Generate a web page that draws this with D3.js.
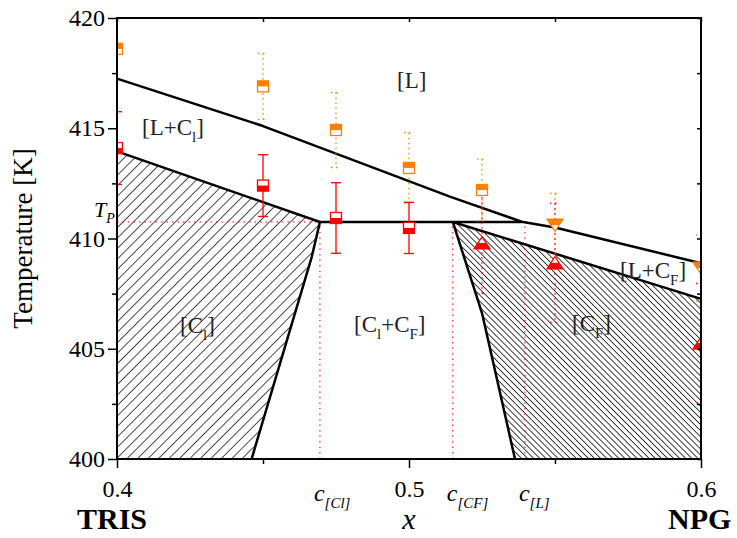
<!DOCTYPE html>
<meta charset="utf-8">
<script src="https://d3js.org/d3.v7.min.js"></script>
<style>
  body { margin: 0; background: #fff; }
  text { font-family: "Liberation Serif", "Times New Roman", serif; fill: #000; }
</style>
<body>
<div id="chart"></div>
<script>
// phase boundaries, [x, T]
var liquidus = [[0.4, 417.25], [0.45, 415.1], [0.48, 413.6], [0.514, 411.9], [0.5386, 410.76], [0.55, 410.5], [0.6, 408.88]];
var solidusCl = [[0.4, 413.95], [0.4695, 410.75]];
var peritectic = [[0.4695, 410.75], [0.5386, 410.75]];
var boundaryCl = [[0.4695, 410.75], [0.4667, 409.17], [0.4461, 400]];
var solidusCF = [[0.515, 410.75], [0.6, 407.26]];
var boundaryCF = [[0.515, 410.75], [0.525, 406.62], [0.5363, 400]];
var Tp = 410.75;
var cPos = [0.4695, 0.515, 0.5397];
var cTop = [410.75, 410.75, 410.72];
var cSub = ["[Cl]", "[CF]", "[L]"];

// measured points
var xs = [0.4, 0.45, 0.475, 0.5, 0.525, 0.55, 0.6];
var tLiq = [418.6, 416.9, 414.92, 413.2, 412.2, 410.6, 408.66];
var eLiq = [1.5, 1.5, 1.7, 1.6, 1.4, 1.45, 1.5];
var liqShape = ["sq", "sq", "sq", "sq", "sq", "tri", "tri"];
var tSol = [414.1, 412.4, 410.93, 410.48, 409.8, 408.9, 405.26];
var eSol = [1.65, 1.4, 1.6, 1.16, 2.3, 2.7, 2.7];
var solShape = ["sq", "sq", "sq", "sq", "tri", "tri", "tri"];

var xTicks = [0.4, 0.5, 0.6], xMinor = [0.45, 0.55];
var yTicks = [400, 405, 410, 415, 420], yMinor = [402.5, 407.5, 412.5, 417.5];

var orange = "#ff8000", red = "#ff0000";

var margin = {top: 18, right: 36, bottom: 79, left: 117},
    width = 737 - margin.left - margin.right,
    height = 538 - margin.top - margin.bottom;

var svg = d3.select("#chart").append("svg")
    .attr("width", 737).attr("height", 538)
  .append("g")
    .attr("transform", "translate(" + margin.left + "," + margin.top + ")");

var x = d3.scaleLinear().domain([0.4, 0.6]).range([0, width]);
var y = d3.scaleLinear().domain([400, 420]).range([height, 0]);

var defs = svg.append("defs");
defs.append("clipPath").attr("id", "clip")
  .append("rect").attr("width", width).attr("height", height);

// hatch patterns
function hatch(id, size, angle, sw) {
  var p = defs.append("pattern").attr("id", id)
    .attr("patternUnits", "userSpaceOnUse")
    .attr("width", size).attr("height", size)
    .attr("patternTransform", "rotate(" + angle + ")");
  p.append("line").attr("x1", 0).attr("y1", -1).attr("x2", 0).attr("y2", size + 1)
    .attr("stroke", "#000").attr("stroke-width", sw);
}
hatch("hatchCl", 7.4, 45, 1.4);
hatch("hatchCF", 4.3, -45, 1.5);

var line = d3.line().x(function(d) { return x(d[0]); }).y(function(d) { return y(d[1]); });

// hatched regions
var regionCl = [[0.4, 400]].concat(solidusCl, boundaryCl.slice(1));
var regionCF = solidusCF.concat([[0.6, 400]], boundaryCF.slice().reverse().slice(0, 2));
svg.append("path").attr("d", line(regionCl) + "Z").attr("fill", "url(#hatchCl)");
svg.append("path").attr("d", line(regionCF) + "Z").attr("fill", "url(#hatchCF)");

// red dotted guide lines
svg.append("path").attr("d", line([[0.4, Tp], peritectic[1]]))
  .attr("fill", "none").attr("stroke", red).attr("stroke-width", 1).attr("stroke-dasharray", "1.5,4");
cPos.forEach(function(c, i) {
  svg.append("path").attr("d", line([[c, 400], [c, cTop[i]]]))
    .attr("fill", "none").attr("stroke", red).attr("stroke-width", 1).attr("stroke-dasharray", "1.5,4");
});

// phase boundary lines
[liquidus, solidusCl, peritectic, boundaryCl, solidusCF, boundaryCF].forEach(function(l) {
  svg.append("path").attr("d", line(l))
    .attr("fill", "none").attr("stroke", "#000").attr("stroke-width", 2.5)
    .attr("stroke-linejoin", "round");
});

// data points
var pts = svg.append("g").attr("clip-path", "url(#clip)");

function errorBar(xv, t, e, color, dotted) {
  var g = pts.append("g").attr("stroke", color).attr("stroke-width", 1.3)
    .attr("fill", "none");
  if (dotted) g.attr("stroke-dasharray", "1.5,3.5");
  var cx = x(xv);
  g.append("line").attr("x1", cx).attr("x2", cx).attr("y1", y(t + e)).attr("y2", y(t - e));
  [t + e, t - e].forEach(function(v) {
    g.append("line").attr("x1", cx - 5).attr("x2", cx + 5).attr("y1", y(v)).attr("y2", y(v));
  });
}

function marker(xv, t, shape, color, topFilled) {
  var cx = x(xv), cy = y(t);
  var g = pts.append("g").attr("transform", "translate(" + cx + "," + cy + ")");
  if (shape === "sq") {
    g.append("rect").attr("x", -5.5).attr("y", -5.5).attr("width", 11).attr("height", 11)
      .attr("fill", "#fff").attr("stroke", color).attr("stroke-width", 1.3);
    g.append("rect").attr("x", -5.5).attr("y", topFilled ? -5.5 : 0).attr("width", 11).attr("height", 5.5)
      .attr("fill", color);
  } else if (topFilled) {
    g.append("path").attr("d", "M-8,-6L8,-6L0,6Z")
      .attr("fill", "#fff").attr("stroke", color).attr("stroke-width", 1.3);
    g.append("path").attr("d", "M-8,-6L8,-6L4,0L-4,0Z").attr("fill", color);
  } else {
    g.append("path").attr("d", "M0,-6L8,6L-8,6Z")
      .attr("fill", "#fff").attr("stroke", color).attr("stroke-width", 1.3);
    g.append("path").attr("d", "M-4,0L4,0L8,6L-8,6Z").attr("fill", color);
  }
}

xs.forEach(function(xv, i) {
  errorBar(xv, tLiq[i], eLiq[i], orange, true);
  errorBar(xv, tSol[i], eSol[i], red, solShape[i] !== "sq");
});
xs.forEach(function(xv, i) {
  marker(xv, tLiq[i], liqShape[i], orange, true);
  marker(xv, tSol[i], solShape[i], red, false);
});

// frame
svg.append("rect").attr("width", width).attr("height", height)
  .attr("fill", "none").attr("stroke", "#000").attr("stroke-width", 2);

// axes
function styleAxis(g) {
  g.select(".domain").remove();
  g.selectAll(".tick line").attr("stroke", "#000").attr("stroke-width", 1.5);
  g.selectAll("text").style("font-family", "Liberation Serif").style("font-size", "24px");
}
svg.append("g").call(d3.axisLeft(y).tickValues(yTicks).tickSize(9).tickPadding(3).tickFormat(d3.format("d"))).call(styleAxis);
svg.append("g").call(d3.axisLeft(y).tickValues(yMinor).tickSize(5).tickFormat("")).call(styleAxis);
svg.append("g").attr("transform", "translate(0," + height + ")")
  .call(d3.axisBottom(x).tickValues(xTicks).tickSize(9).tickPadding(12).tickFormat(d3.format(".1f"))).call(styleAxis);
svg.append("g").attr("transform", "translate(0," + height + ")")
  .call(d3.axisBottom(x).tickValues(xMinor).tickSize(5).tickFormat("")).call(styleAxis);
svg.append("g").call(d3.axisTop(x).tickValues(xTicks.concat(xMinor)).tickSize(-4).tickFormat("")).call(styleAxis);
svg.append("g").attr("transform", "translate(" + width + ",0)")
  .call(d3.axisRight(y).tickValues(yTicks.concat(yMinor)).tickSize(-4).tickFormat("")).call(styleAxis);

// axis titles
svg.append("text").attr("transform", "translate(-85," + (height / 2) + ") rotate(-90)")
  .attr("text-anchor", "middle").style("font-size", "27px").text("Temperature [K]");
svg.append("text").attr("x", x(0.5)).attr("y", height + 70).attr("text-anchor", "middle")
  .style("font-size", "30px").style("font-style", "italic").text("x");
svg.append("text").attr("x", x(0.4) - 40).attr("y", height + 70)
  .style("font-size", "30px").style("font-weight", "bold").text("TRIS");
svg.append("text").attr("x", x(0.6) - 33).attr("y", height + 70)
  .style("font-size", "30px").style("font-weight", "bold").text("NPG");

// composition labels
cPos.forEach(function(c, i) {
  var t = svg.append("text").attr("x", x(c) - 6).attr("y", height + 42).style("font-style", "italic");
  t.append("tspan").style("font-size", "24px").text("c");
  t.append("tspan").attr("dy", 7).style("font-size", "15px").text(cSub[i]);
});

// T_P label
var tp = svg.append("text").attr("x", -23).attr("y", y(Tp) - 5).style("font-style", "italic");
tp.append("tspan").style("font-size", "22px").text("T");
tp.append("tspan").attr("dy", 6).style("font-size", "14px").text("P");

// region labels: strings are normal text, {s: ...} is a subscript
function label(px, py, parts) {
  var t = svg.append("text").attr("x", px).attr("y", py).style("font-size", "23px").style("fill", "#222");
  var shift = 0;
  parts.forEach(function(p) {
    if (typeof p === "string") {
      t.append("tspan").attr("dy", -shift).text(p);
      shift = 0;
    } else {
      t.append("tspan").attr("dy", 7).style("font-size", "15px").text(p.s);
      shift = 7;
    }
  });
}
label(280, 70, ["[L]"]);
label(25, 117, ["[L+C", {s: "l"}, "]"]);
label(63, 315, ["[C", {s: "l"}, "]"]);
label(237, 314, ["[C", {s: "l"}, "+C", {s: "F"}, "]"]);
label(455, 313, ["[C", {s: "F"}, "]"]);
label(503, 260, ["[L+C", {s: "F"}, "]"]);
</script>
</body>
